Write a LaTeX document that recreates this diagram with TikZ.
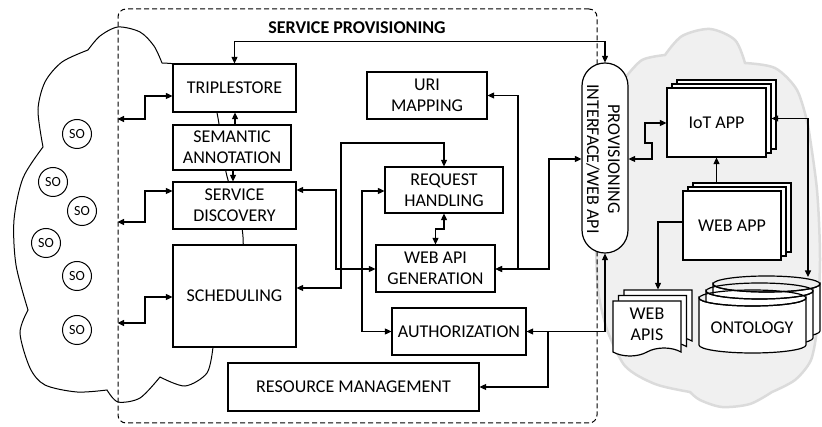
\documentclass[tikz,border=0pt]{standalone}
\usepackage{fontspec}
\setmainfont{Carlito}
\usetikzlibrary{arrows.meta,shapes.symbols}
\newcommand\boxfont{\fontsize{18}{21}\selectfont}
\newcommand\sofont{\fontsize{14}{14}\selectfont}
\begin{document}
\begin{tikzpicture}[x=1pt,y=-1pt,
  box/.style={draw, fill=white, line width=1.2pt, inner sep=0pt, align=center, font=\boxfont},
  so/.style={draw, circle, fill=white, minimum size=29pt, inner sep=0pt, line width=1pt, font=\sofont},
  arr/.style={line width=1.1pt, -{Triangle[length=6.5pt,width=6pt]}},
  barr/.style={line width=1.1pt, {Triangle[length=6.5pt,width=6pt]}-{Triangle[length=6.5pt,width=6pt]}},
  cloudline/.style={line width=1pt, draw=black, fill=white}]
\useasboundingbox (0,0) rectangle (822,427);

% right cloud
\path[fill=gray!12, draw=gray!28, line width=2.5pt]
  plot[smooth] coordinates {(607,330) (598,290) (596,220) (600,140) (610,100) (625,78)}
  -- plot[smooth] coordinates {(625,78) (642,60) (665,55)}
  -- plot[smooth] coordinates {(665,55) (682,36) (710,29) (735,40) (745,63)}
  -- plot[smooth] coordinates {(745,63) (775,68) (797,90) (808,125)}
  -- plot[smooth] coordinates {(808,125) (817,190) (820,260) (817,330)}
  -- plot[smooth] coordinates {(817,330) (811,360) (795,380) (772,392)}
  -- plot[smooth] coordinates {(772,392) (750,404) (722,407) (700,400) (690,392)}
  -- plot[smooth] coordinates {(690,392) (655,384) (625,366) (607,330)} -- cycle;

% left cloud
\path[cloudline]
  plot[smooth] coordinates {(88,50) (100,36) (118,27) (140,32) (154,46) (162,63)}
  -- plot[smooth] coordinates {(162,63) (190,67) (210,88) (218,118) (226,172) (236,205) (243,237) (240,290) (213,347)}
  -- plot[smooth] coordinates {(213,347) (207,373) (185,386) (160,377)}
  -- plot[smooth] coordinates {(160,377) (140,398) (118,402) (107,390)}
  -- plot[smooth] coordinates {(107,390) (77,392) (45,385) (30,368) (20,333) (28,310)}
  -- plot[smooth] coordinates {(28,310) (16,265) (14,220) (23,178) (43,147)}
  -- plot[smooth] coordinates {(43,147) (38,110) (45,82) (62,62) (88,50)} -- cycle;

% SO circles
\node[so] (so1) at (77,134) {SO};
\node[so] (so2) at (53,182) {SO};
\node[so] (so3) at (82,211) {SO};
\node[so] (so4) at (46,243) {SO};
\node[so] (so5) at (77,276) {SO};
\node[so] (so6) at (77,330) {SO};

% service provisioning frame
\node[draw, dash pattern=on 5pt off 3pt, rounded corners=8pt, line width=1pt,
      minimum width=479pt, minimum height=414pt] (sp) at (357.5,216) {};
\node[font=\boxfont\bfseries] (title) at (357,28) {SERVICE PROVISIONING};

% boxes
\node[box, minimum width=123pt, minimum height=48pt] (trip) at (234.5,88) {TRIPLESTORE};
\node[box, minimum width=118pt, minimum height=45pt] (sem) at (232,147.5) {SEMANTIC\\ANNOTATION};
\node[box, minimum width=123pt, minimum height=47pt] (sd) at (234.5,205.5) {SERVICE\\DISCOVERY};
\node[box, minimum width=123pt, minimum height=102pt] (sched) at (234.5,296) {SCHEDULING};
\node[box, minimum width=120pt, minimum height=47pt] (uri) at (427,95.5) {URI\\MAPPING};
\node[box, minimum width=118pt, minimum height=46pt] (req) at (444,190) {REQUEST\\HANDLING};
\node[box, minimum width=119pt, minimum height=47pt] (wag) at (435.5,268.5) {WEB API\\GENERATION};
\node[box, minimum width=134pt, minimum height=47pt] (auth) at (459,331.5) {AUTHORIZATION};
\node[box, minimum width=251pt, minimum height=48pt] (rm) at (353.5,387) {RESOURCE MANAGEMENT};

% provisioning interface capsule
\node[draw, fill=white, line width=1.2pt, rounded corners=22.9pt,
      minimum width=46pt, minimum height=190pt] (cap) at (605,158) {};
\node[rotate=-90, align=center, font=\boxfont, inner sep=0pt] (captext) at (603,159)
  {PROVISIONING\\INTERFACE/WEB API};

% IoT APP stack
\node[box, minimum width=99pt, minimum height=69pt] (iot3) at (726.5,114.5) {};
\node[box, minimum width=99pt, minimum height=69pt] (iot2) at (721.5,118.5) {};
\node[box, minimum width=99pt, minimum height=69pt] (iot) at (716.5,122.5) {IoT APP};
% WEB APP stack
\node[box, minimum width=98pt, minimum height=69pt] (wa3) at (742,217.5) {};
\node[box, minimum width=98pt, minimum height=69pt] (wa2) at (737,221.5) {};
\node[box, minimum width=98pt, minimum height=69pt] (wa) at (732,225.5) {WEB APP};
% WEB APIS stack
\tikzset{apis/.style={box, tape, tape bend top=none, tape bend height=8pt, minimum width=68pt, minimum height=55pt}}
\node[apis] (api3) at (658,313.5) {};
\node[apis] (api2) at (652.5,319) {};
\node[apis] (api) at (647,324.5) {WEB\\APIS};

% ONTOLOGY stack (cylinders)
\foreach \L/\tc in {713/284, 706/291, 699/298}{
  \pgfmathsetmacro\R{\L+107}
  \pgfmathsetmacro\bc{\tc+47}
  \pgfmathsetmacro\cx{\L+53.5}
  \draw[line width=1.2pt, fill=white] (\L,\tc) -- (\L,\bc)
     arc[start angle=180, end angle=0, x radius=53.5, y radius=8]
     -- (\R,\tc) arc[start angle=0, end angle=180, x radius=53.5, y radius=8] -- cycle;
  \draw[line width=1.2pt] (\cx,\tc) ellipse[x radius=53.5, y radius=8];
}
\node[font=\boxfont] (onto) at (752,328) {ONTOLOGY};
\coordinate (ontotop) at (808,277);

% connectors
\draw[barr] (trip.north) -- ++(0,-22) -| (cap.north);
\draw[barr] (trip.west |- 0,96) -- (145,96) -- (145,119) -- (sp.west |- 0,119);
\draw[barr] (sd.west |- 0,191) -- (145,191) -- (145,222) -- (sp.west |- 0,222);
\draw[barr] (sched.west |- 0,297) -- (145,297) -- (145,323) -- (sp.west |- 0,323);
\draw[arr] (sem.north -| 235,0) -- (trip.south -| 235,0);
\draw[arr] (sem.south -| 233,0) -- (sd.north -| 233,0);

\draw[barr] (sd.east |- 0,190) -| (336,269) -- (wag.west |- 0,269);
\draw[barr] (sched.east |- 0,288) -| (341,143) -| (req.north);
\draw[barr] (req.west |- 0,191) -- (362,191) |- (auth.west);
\draw[barr] (req.south) -- (444,229) -| (wag.north);
\draw[barr] (uri.east) -| (518,269) -- (wag.east |- 0,269);
\draw[barr] (cap.west |- 0,159) -| (549,269) -- (wag.east |- 0,269);
\draw[barr] (auth.east) -| (cap.south);
\coordinate (br) at (548,331.5);
\draw[arr] (br) |- (rm.east);

\draw[barr] (cap.east |- 0,159) -- (652,159) -- (652,143) -- (645,143) -- (645,123) -- (iot.west |- 0,123);
\draw[barr] (iot2.east) -| (ontotop);
\draw[arr] (wa3.north -| iot.south) -- (iot.south);
\draw[arr] (wa.west |- 0,222) -| (api3.north);
\end{tikzpicture}
\end{document}
